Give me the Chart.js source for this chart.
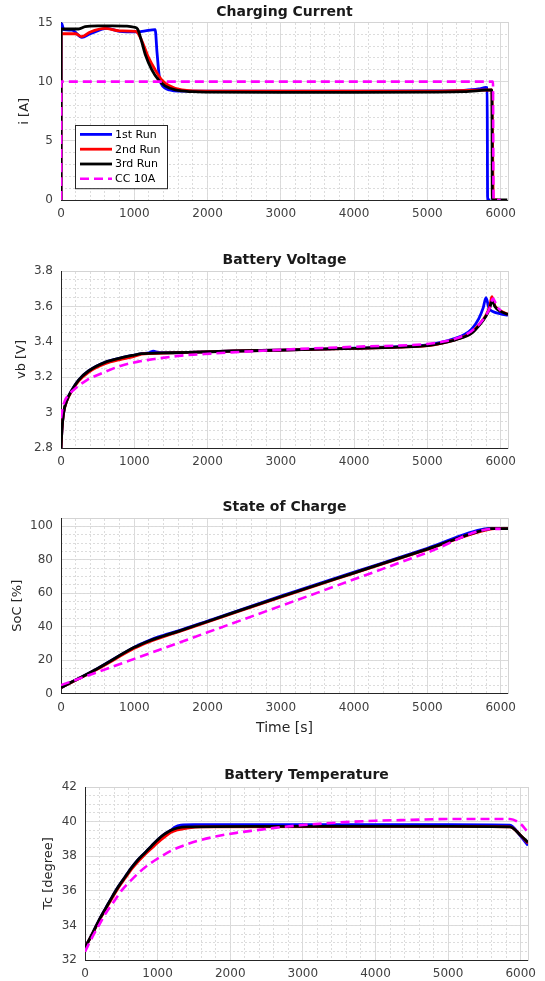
<!DOCTYPE html>
<html>
<head>
<meta charset="utf-8">
<script src="https://cdn.jsdelivr.net/npm/chart.js@4.4.1/dist/chart.umd.min.js"></script>
<style>
  html, body { margin: 0; padding: 0; background: #fff; }
  #page { position: relative; width: 545px; height: 981px; overflow: hidden; background: #fff; }
  #page canvas { position: absolute; left: 0; }
</style>
</head>
<body>
<div id="page">
  <canvas id="cCurrent" width="545" height="230" style="top:0px"></canvas>
  <canvas id="cVoltage" width="545" height="230" style="top:240px"></canvas>
  <canvas id="cSoc" width="545" height="250" style="top:490px"></canvas>
  <canvas id="cTemp" width="545" height="221" style="top:760px"></canvas>
</div>
<script>
// ---- series names / colours ----
const runLabels = ["1st Run", "2nd Run", "3rd Run", "CC 10A"];
const runColors = ["#0000ff", "#ff0000", "#000000", "#ff00ff"];

// ---- tick labels ----
const timeTicks = [0, 1000, 2000, 3000, 4000, 5000, 6000];
const currentTicks = [0, 5, 10, 15];
const voltTicks = [2.8, 3, 3.2, 3.4, 3.6, 3.8];
const socTicks = [0, 20, 40, 60, 80, 100];
const tempTicks = [32, 34, 36, 38, 40, 42];

// ---- Charging Current [A] ----
const tCur1 = [0, 2, 40, 150, 285, 400, 630, 800, 1030, 1150, 1285, 1310, 1340, 1370, 1420, 1480, 1600, 2000, 3000, 4000, 5000, 5500, 5700, 5800, 5815, 5822, 5860];
const iCur1 = [0, 15, 14.4, 14.35, 13.75, 14.05, 14.5, 14.25, 14.2, 14.3, 14.4, 12.5, 10.5, 9.8, 9.45, 9.3, 9.2, 9.2, 9.2, 9.2, 9.22, 9.27, 9.38, 9.52, 9.5, 0, 0];
const tCur2 = [0, 2, 200, 280, 400, 600, 800, 1020, 1100, 1190, 1285, 1375, 1465, 1650, 2000, 3000, 4000, 5000, 5880, 5900, 5960];
const iCur2 = [0, 14.05, 14.05, 13.8, 14.2, 14.5, 14.3, 14.25, 13.5, 12.1, 11.0, 10.15, 9.7, 9.3, 9.2, 9.2, 9.2, 9.2, 9.3, 0, 0];
const tCur3 = [0, 2, 240, 330, 500, 700, 900, 1000, 1045, 1100, 1150, 1240, 1330, 1420, 1560, 1800, 2000, 3000, 4000, 5000, 5500, 5880, 5886, 6090];
const iCur3 = [0, 14.45, 14.45, 14.65, 14.72, 14.72, 14.7, 14.6, 14.45, 13.4, 12.3, 11.0, 10.15, 9.65, 9.3, 9.15, 9.12, 9.1, 9.1, 9.12, 9.15, 9.3, 0, 0];
const tCurCC = [0, 2, 5895, 5902, 6000];
const iCurCC = [0, 10, 10, 0, 0];

// ---- Battery Voltage [V] ----
const tVolt1 = [0, 14, 36, 81, 150, 240, 375, 600, 830, 1000, 1100, 1200, 1260, 1320, 1400, 1733, 2366, 3000, 4000, 4600, 5000, 5200, 5400, 5500, 5600, 5700, 5760, 5800, 5840, 5900, 6000, 6100];
const vVolt1 = [2.8, 2.91, 3.0, 3.07, 3.128, 3.184, 3.235, 3.284, 3.31, 3.325, 3.333, 3.338, 3.347, 3.34, 3.338, 3.34, 3.348, 3.353, 3.364, 3.372, 3.382, 3.398, 3.422, 3.44, 3.47, 3.53, 3.59, 3.65, 3.59, 3.57, 3.558, 3.55];
const tVolt2 = [0, 14, 36, 81, 150, 240, 375, 600, 830, 1000, 1100, 1400, 1733, 2366, 3000, 4000, 4600, 5000, 5200, 5400, 5600, 5700, 5800, 5850, 5880, 5920, 6000, 6100];
const vVolt2 = [2.8, 2.91, 3.0, 3.068, 3.124, 3.178, 3.228, 3.276, 3.302, 3.318, 3.33, 3.336, 3.34, 3.348, 3.353, 3.363, 3.37, 3.378, 3.393, 3.415, 3.45, 3.495, 3.55, 3.6, 3.655, 3.605, 3.575, 3.555];
const tVolt3 = [0, 14, 36, 81, 150, 240, 375, 600, 830, 1000, 1100, 1400, 1733, 2366, 3000, 4000, 4600, 5000, 5200, 5400, 5600, 5700, 5800, 5850, 5885, 5920, 6000, 6100];
const vVolt3 = [2.8, 2.91, 3.0, 3.07, 3.128, 3.184, 3.235, 3.284, 3.31, 3.325, 3.333, 3.337, 3.34, 3.348, 3.353, 3.363, 3.37, 3.378, 3.392, 3.413, 3.447, 3.49, 3.545, 3.59, 3.635, 3.6, 3.572, 3.555];
const tVoltCC = [0, 20, 50, 100, 172, 353, 557, 783, 1054, 1280, 1643, 1960, 2321, 3000, 4000, 5000, 5200, 5400, 5600, 5750, 5850, 5895, 5950, 6000];
const vVoltCC = [2.968, 3.02, 3.065, 3.098, 3.128, 3.184, 3.222, 3.26, 3.288, 3.303, 3.322, 3.331, 3.34, 3.355, 3.372, 3.388, 3.4, 3.42, 3.46, 3.52, 3.59, 3.645, 3.6, 3.575];

// ---- State of Charge [%] ----
const tSoc1 = [0, 500, 1000, 1100, 1200, 1300, 1400, 1600, 2000, 3000, 4000, 5000, 5780, 5820, 6100];
const sSoc1 = [3.5, 15, 27.7, 29.8, 31.7, 33.4, 34.8, 37.5, 43.4, 58.3, 72.6, 86.9, 98.5, 98.6, 98.6];
const tSoc2 = [0, 500, 1000, 1100, 1200, 1300, 1400, 1600, 2000, 3000, 4000, 5000, 5880, 5920, 6100];
const sSoc2 = [3.5, 14.7, 27.0, 29.1, 30.9, 32.5, 34.0, 36.9, 42.8, 57.7, 72.0, 86.2, 98.5, 98.6, 98.6];
const tSoc3 = [0, 500, 1000, 1100, 1200, 1300, 1400, 1600, 2000, 3000, 4000, 5000, 5820, 5860, 6100];
const sSoc3 = [3.5, 15, 27.6, 29.6, 31.4, 33, 34.4, 37.2, 43.1, 57.9, 72.2, 86.4, 98.4, 98.6, 98.6];
const tSocCC = [0, 1000, 2000, 3000, 4000, 5000, 5910, 6000];
const sSocCC = [5, 20.7, 36.6, 52.4, 68.3, 84.3, 98.5, 98.5];

// ---- Battery Temperature [degree] ----
const tTemp1 = [0, 104, 194, 284, 374, 464, 554, 644, 734, 824, 914, 1004, 1094, 1184, 1229, 1318, 1500, 5000, 5850, 6000, 6100];
const cTemp1 = [32.72, 33.54, 34.31, 34.98, 35.65, 36.27, 36.81, 37.35, 37.81, 38.19, 38.58, 38.96, 39.27, 39.5, 39.66, 39.8, 39.82, 39.82, 39.8, 39.15, 38.62];
const tTemp2 = [0, 104, 194, 284, 374, 464, 554, 644, 734, 824, 914, 1004, 1094, 1184, 1274, 1408, 1600, 5000, 5850, 6000, 6100];
const cTemp2 = [32.72, 33.52, 34.27, 34.93, 35.58, 36.2, 36.74, 37.26, 37.7, 38.1, 38.45, 38.8, 39.1, 39.38, 39.52, 39.63, 39.7, 39.72, 39.7, 39.2, 38.75];
const tTemp3 = [0, 104, 194, 284, 374, 464, 554, 644, 734, 824, 914, 1004, 1094, 1184, 1274, 1408, 2354, 5000, 5850, 6000, 6100];
const cTemp3 = [32.72, 33.54, 34.31, 34.98, 35.65, 36.27, 36.81, 37.35, 37.81, 38.19, 38.58, 38.96, 39.27, 39.5, 39.63, 39.69, 39.72, 39.72, 39.7, 39.2, 38.8];
const tTempCC = [0, 104, 194, 284, 374, 508, 644, 824, 1004, 1184, 1364, 1544, 1814, 2084, 2354, 2700, 3000, 3500, 4000, 4500, 5000, 5850, 6000, 6080];
const cTempCC = [32.48, 33.35, 34.02, 34.69, 35.23, 36.04, 36.65, 37.35, 37.87, 38.31, 38.63, 38.88, 39.15, 39.35, 39.5, 39.68, 39.8, 39.95, 40.05, 40.1, 40.15, 40.15, 39.86, 39.48];

// ---- axis settings ----
const FONT = "'DejaVu Sans', Verdana, sans-serif";
const TICK_COLOR = "#404040";
const AXIS_COLOR = "#262626";
const tickFmt = v => String(Math.round(v * 100) / 100);
const pts = (ts, vs) => ts.map((t, i) => ({ x: t, y: vs[i] }));
const fixedTicks = vals => s => { s.ticks = vals.map(v => ({ value: v })); };

// legend drawn inside the plot area, like the MATLAB one
const insideLegend = {
  id: "insideLegend",
  afterDraw(chart, args, opts) {
    const ctx = chart.ctx;
    const x = chart.chartArea.left + opts.dx;
    const y = chart.chartArea.top + opts.dy;
    const w = opts.width, rowH = opts.rowHeight;
    const h = rowH * chart.data.datasets.length + 4;
    ctx.save();
    ctx.fillStyle = "#ffffff";
    ctx.fillRect(x, y, w, h);
    ctx.strokeStyle = AXIS_COLOR;
    ctx.lineWidth = 1;
    ctx.strokeRect(x + 0.5, y + 0.5, w, h);
    ctx.font = "11px " + FONT;
    ctx.textBaseline = "middle";
    chart.data.datasets.forEach((ds, k) => {
      const ry = y + 2 + rowH * (k + 0.5);
      ctx.strokeStyle = ds.borderColor;
      ctx.lineWidth = ds.borderWidth;
      ctx.setLineDash(ds.borderDash || []);
      ctx.beginPath();
      ctx.moveTo(x + 5, ry);
      ctx.lineTo(x + 37, ry);
      ctx.stroke();
      ctx.setLineDash([]);
      ctx.fillStyle = "#000000";
      ctx.fillText(ds.label, x + 40, ry + 0.5);
    });
    ctx.restore();
  }
};

function makeChart(id, c) {
  const datasets = runLabels.map((label, k) => ({
    label: label,
    data: pts(c.series[k][0], c.series[k][1]),
    borderColor: runColors[k],
    backgroundColor: runColors[k],
    borderWidth: k === 3 ? 2.6 : 2.8,
    borderDash: k === 3 ? [9, 5] : [],
    pointRadius: 0,
    fill: false,
    cubicInterpolationMode: "monotone",
    order: 4 - k
  }));

  return new Chart(document.getElementById(id), {
    type: "line",
    data: { datasets: datasets },
    plugins: c.legend ? [insideLegend] : [],
    options: {
      responsive: false,
      animation: false,
      events: [],
      layout: { padding: { left: 0, right: c.padRight, top: 0, bottom: 0 } },
      plugins: {
        legend: { display: false },
        tooltip: { enabled: false },
        title: {
          display: true,
          fullSize: false,  // centre over the plot box, not the canvas
          text: c.title,
          color: "#1a1a1a",
          font: { family: FONT, size: 14, weight: "bold" },
          padding: { top: c.titlePad[0], bottom: c.titlePad[1] }
        },
        insideLegend: { dx: 14, dy: 102.5, width: 92, rowHeight: 14.8 }
      },
      scales: {
        x: {
          type: "linear",
          position: "bottom",
          min: 0,
          max: 6100,
          afterBuildTicks: fixedTicks(timeTicks),
          ticks: {
            autoSkip: false,
            maxRotation: 0,
            padding: 7,
            color: TICK_COLOR,
            font: { family: FONT, size: 12 },
            callback: tickFmt
          },
          grid: { color: "#d9d9d9", lineWidth: 1, drawTicks: false },
          border: { display: true, color: AXIS_COLOR, width: 1 },
          title: c.xTitle ? {
            display: true,
            text: c.xTitle,
            color: AXIS_COLOR,
            font: { family: FONT, size: 14 },
            padding: { top: 0, bottom: 3.6 }
          } : { display: false },
          afterFit: s => { s.height = c.xHeight; }
        },
        xMinor: {
          type: "linear",
          position: "top",
          min: 0,
          max: 6100,
          ticks: { stepSize: 200, display: false },
          grid: { color: "#dcdcdc", lineWidth: 1, drawTicks: false },
          border: { display: true, color: "#d4d4d4", width: 1, dash: [2, 2] },
          afterFit: s => { s.height = 0; }
        },
        y: {
          type: "linear",
          position: "left",
          min: c.yMin,
          max: c.yMax,
          afterBuildTicks: fixedTicks(c.yTicks),
          ticks: {
            autoSkip: false,
            padding: 8,
            color: TICK_COLOR,
            font: { family: FONT, size: 12 },
            callback: tickFmt
          },
          grid: { color: "#d9d9d9", lineWidth: 1, drawTicks: false },
          border: { display: true, color: AXIS_COLOR, width: 1 },
          title: {
            display: true,
            text: c.yTitle,
            color: AXIS_COLOR,
            font: { family: FONT, size: 13 },
            padding: { top: c.yTitlePad, bottom: 0 }
          },
          afterFit: s => { s.width = c.yWidth; }
        },
        yMinor: {
          type: "linear",
          position: "right",
          min: c.yMin,
          max: c.yMax,
          ticks: { stepSize: c.yMinorStep, display: false },
          grid: { color: "#dcdcdc", lineWidth: 1, drawTicks: false },
          border: { display: true, color: "#d4d4d4", width: 1, dash: [2, 2] },
          afterFit: s => { s.width = 0; }
        }
      }
    }
  });
}

makeChart("cCurrent", {
  title: "Charging Current", titlePad: [4, 1.7],
  yTitle: "i [A]", yTitlePad: 17.2, yWidth: 61, xHeight: 30, padRight: 37,
  yMin: 0, yMax: 15, yTicks: currentTicks, yMinorStep: 1, legend: true,
  series: [[tCur1, iCur1], [tCur2, iCur2], [tCur3, iCur3], [tCurCC, iCurCC]]
});

makeChart("cVoltage", {
  title: "Battery Voltage", titlePad: [11.6, 2.6],
  yTitle: "vb [V]", yTitlePad: 13.7, yWidth: 61, xHeight: 22, padRight: 37,
  yMin: 2.8, yMax: 3.8, yTicks: voltTicks, yMinorStep: 0.05,
  series: [[tVolt1, vVolt1], [tVolt2, vVolt2], [tVolt3, vVolt3], [tVoltCC, vVoltCC]]
});

makeChart("cSoc", {
  title: "State of Charge", titlePad: [9.4, 1.8],
  yTitle: "SoC [%]", yTitlePad: 9.6, yWidth: 61, xHeight: 46.5, padRight: 37,
  xTitle: "Time [s]",
  yMin: 0, yMax: 105, yTicks: socTicks, yMinorStep: 5,
  series: [[tSoc1, sSoc1], [tSoc2, sSoc2], [tSoc3, sSoc3], [tSocCC, sSocCC]]
});

makeChart("cTemp", {
  title: "Battery Temperature", titlePad: [7.3, 2.9],
  yTitle: "Tc [degree]", yTitlePad: 40.9, yWidth: 85, xHeight: 21, padRight: 17,
  yMin: 32, yMax: 42, yTicks: tempTicks, yMinorStep: 0.5,
  series: [[tTemp1, cTemp1], [tTemp2, cTemp2], [tTemp3, cTemp3], [tTempCC, cTempCC]]
});
</script>
</body>
</html>
